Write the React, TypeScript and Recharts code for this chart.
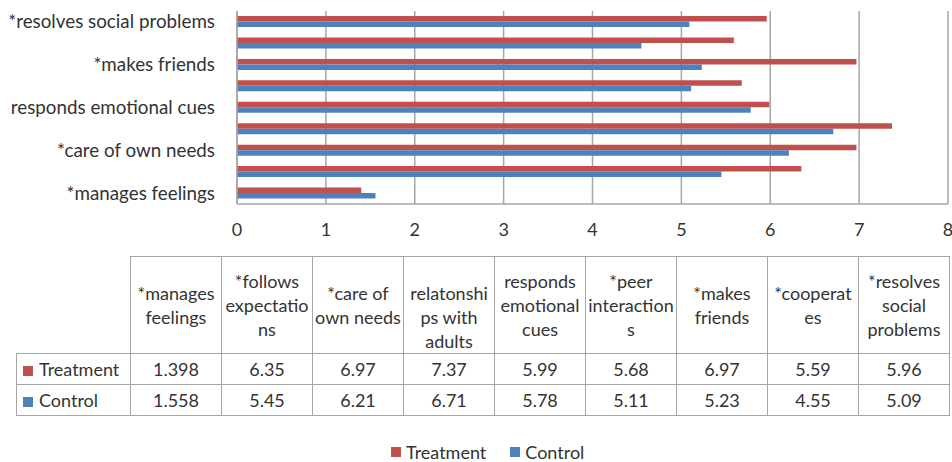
import React from "react";
import { BarChart, Bar, XAxis, YAxis, CartesianGrid, Legend } from "recharts";

// categories, bottom to top on the chart / left to right in the table
const categories = [
  "*manages feelings",
  "*follows expectations",
  "*care of own needs",
  "relatonships with adults",
  "responds emotional cues",
  "*peer interactions",
  "*makes friends",
  "*cooperates",
  "*resolves social problems",
];

// table header text, broken the way the original cells wrap
const headerLines = [
  ["*manages", "feelings"],
  ["*follows", "expectatio", "ns"],
  ["*care of", "own needs"],
  ["", "relatonshi", "ps with", "adults"],
  ["responds", "emotional", "cues"],
  ["*peer", "interaction", "s"],
  ["*makes", "friends"],
  ["*cooperat", "es"],
  ["*resolves", "social", "problems"],
];

const treatment = [1.398, 6.35, 6.97, 7.37, 5.99, 5.68, 6.97, 5.59, 5.96];
const control = [1.558, 5.45, 6.21, 6.71, 5.78, 5.11, 5.23, 4.55, 5.09];
const xTicks = [0, 1, 2, 3, 4, 5, 6, 7, 8];

const series = [
  { key: "treatment", name: "Treatment", color: "#C0504D", values: treatment },
  { key: "control", name: "Control", color: "#4F81BD", values: control },
];

const data = categories.map((name, i) => ({
  name,
  treatment: treatment[i],
  control: control[i],
}));

const FONT = "Lato, 'Open Sans', sans-serif";
const TEXT = "#333333";
const LINE = "#A6A6A6";

const cellBorder = `1.5px solid ${LINE}`;

const DataTable = () => (
  <table
    style={{
      position: "absolute",
      left: 16,
      top: 256,
      width: 934,
      borderCollapse: "collapse",
      tableLayout: "fixed",
      fontFamily: FONT,
      fontSize: 18,
      color: TEXT,
    }}
  >
    <colgroup>
      <col style={{ width: 114 }} />
      {categories.map((c) => (
        <col key={c} />
      ))}
    </colgroup>
    <tbody>
      <tr style={{ height: 97 }}>
        <td style={{ border: "none", borderRight: cellBorder, borderBottom: cellBorder }} />
        {headerLines.map((lines, i) => (
          <td
            key={i}
            style={{ border: cellBorder, textAlign: "center", padding: 0, lineHeight: "24px", whiteSpace: "nowrap" }}
          >
            {lines.map((l, j) => (
              <div key={j} style={{ height: 24 }}>{l}</div>
            ))}
          </td>
        ))}
      </tr>
      {series.map((s) => (
        <tr key={s.key} style={{ height: 31 }}>
          <td style={{ border: cellBorder, padding: "0 0 0 6px", whiteSpace: "nowrap" }}>
            <span
              style={{ display: "inline-block", width: 10, height: 10, background: s.color, marginRight: 6 }}
            />
            {s.name}
          </td>
          {s.values.map((v, i) => (
            <td key={i} style={{ border: cellBorder, textAlign: "center", padding: 0 }}>
              {v}
            </td>
          ))}
        </tr>
      ))}
    </tbody>
  </table>
);

const LegendContent = () => (
  <div style={{ display: "flex", fontFamily: FONT, fontSize: 18, color: TEXT, lineHeight: "18px" }}>
    {series.map((s) => (
      <div key={s.key} style={{ display: "flex", alignItems: "center", marginRight: 24 }}>
        <span style={{ display: "inline-block", width: 10, height: 10, background: s.color, marginRight: 5 }} />
        {s.name}
      </div>
    ))}
  </div>
);

const App = () => {
  return (
    <div style={{ position: "absolute", left: 0, top: 0, width: 952, height: 462, background: "#fff" }}>
      <BarChart
        width={952}
        height={462}
        data={data}
        layout="vertical"
        barGap={0}
        margin={{ top: 11, right: 4, left: 0, bottom: 210 }}
      >
        <CartesianGrid horizontal={false} stroke={LINE} strokeWidth={1.5} />
        <XAxis
          type="number"
          domain={[0, 8]}
          ticks={xTicks}
          interval={0}
          tickLine={false}
          axisLine={{ stroke: LINE, strokeWidth: 1.5 }}
          height={30}
          tickMargin={13}
          tick={{ fontFamily: FONT, fontSize: 18, fill: TEXT }}
        />
        <YAxis
          type="category"
          dataKey="name"
          reversed
          interval={1}
          width={237}
          tickLine={false}
          tickMargin={16}
          axisLine={{ stroke: LINE, strokeWidth: 1.5 }}
          tick={{ fontFamily: FONT, fontSize: 18.8, fill: TEXT }}
        />
        <Legend
          verticalAlign="bottom"
          content={<LegendContent />}
          wrapperStyle={{ left: 391, top: 443, bottom: "auto", width: "auto" }}
        />
        {series.map((s) => (
          <Bar
            key={s.key}
            dataKey={s.key}
            name={s.name}
            fill={s.color}
            barSize={5.5}
            isAnimationActive={false}
          />
        ))}
      </BarChart>
      <DataTable />
    </div>
  );
};

export default App;
